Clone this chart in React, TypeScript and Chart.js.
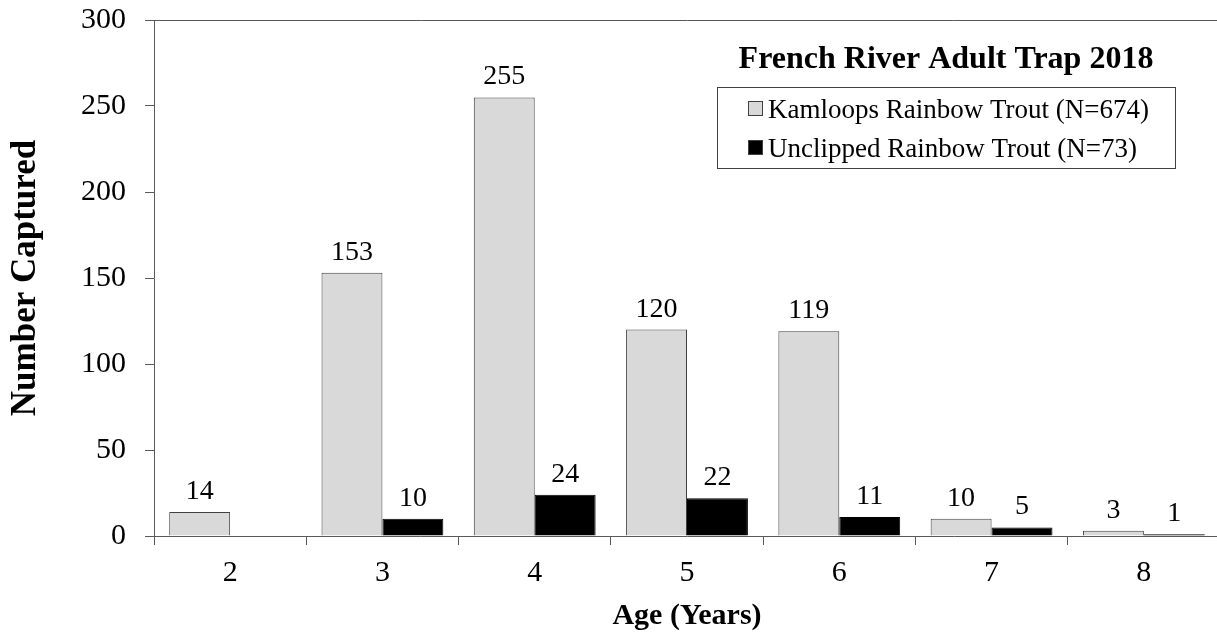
import React, { useEffect, useRef } from "react";
import { Chart, registerables } from "chart.js";

Chart.register(...registerables);

const categories = ["2", "3", "4", "5", "6", "7", "8"];
const kamloops = [14, 153, 255, 120, 119, 10, 3];
const unclipped = [null, 10, 24, 22, 11, 5, 1];
const seriesLabels = ["Kamloops Rainbow Trout (N=674)", "Unclipped Rainbow Trout (N=73)"];
const chartTitle = "French River Adult Trap 2018";
const yMin = 0;
const yMax = 300;
const yStep = 50;
const xTitle = "Age (Years)";
const yTitle = "Number Captured";

const SERIF = "'Liberation Serif', 'Times New Roman', serif";
const AXIS = "#595959";

const valueLabels = {
  id: "valueLabels",
  afterDatasetsDraw(chart: any) {
    const ctx = chart.ctx;
    ctx.save();
    ctx.font = `28px ${SERIF}`;
    ctx.fillStyle = "#000";
    ctx.textAlign = "center";
    ctx.textBaseline = "alphabetic";
    chart.data.datasets.forEach((ds: any, i: number) => {
      const meta = chart.getDatasetMeta(i);
      meta.data.forEach((el: any, j: number) => {
        const v = ds.data[j];
        if (v == null) return;
        ctx.fillText(String(v), el.x, el.y - 13);
      });
    });
    ctx.restore();
  },
};

const legendBox = {
  id: "legendBox",
  afterDraw(chart: any) {
    const ctx = chart.ctx;
    ctx.save();
    ctx.fillStyle = "#000";
    ctx.textAlign = "center";
    ctx.textBaseline = "alphabetic";
    ctx.font = `bold 32px ${SERIF}`;
    ctx.fillText(chartTitle, 946, 68);

    ctx.strokeStyle = "#404040";
    ctx.lineWidth = 1;
    ctx.strokeRect(717.5, 87.5, 458, 81);

    ctx.font = `27px ${SERIF}`;
    ctx.textAlign = "left";
    const rows = [118, 157];
    chart.data.datasets.forEach((ds: any, i: number) => {
      const base = rows[i];
      ctx.fillStyle = ds.backgroundColor;
      ctx.fillRect(748.5, base - 16.5, 14, 14);
      ctx.strokeStyle = "#404040";
      ctx.strokeRect(748.5, base - 16.5, 14, 14);
      ctx.fillStyle = "#000";
      ctx.fillText(ds.label, 768, base);
    });
    ctx.restore();
  },
};

export default function App() {
  const ref = useRef<HTMLCanvasElement | null>(null);

  useEffect(() => {
    if (!ref.current) return;
    const chart = new Chart(ref.current, {
      type: "bar",
      data: {
        labels: categories,
        datasets: [
          {
            label: seriesLabels[0],
            data: kamloops,
            backgroundColor: "#d9d9d9",
            borderColor: "#404040",
            borderWidth: 1,
          },
          {
            label: seriesLabels[1],
            data: unclipped as any,
            backgroundColor: "#000000",
            borderColor: "#000000",
            borderWidth: 1,
          },
        ],
      },
      options: {
        responsive: false,
        animation: false,
        layout: { padding: { top: 20, right: 2, left: 0, bottom: 0 } },
        datasets: { bar: { categoryPercentage: 0.8, barPercentage: 1.0 } },
        plugins: {
          legend: { display: false },
          tooltip: { enabled: false },
          title: { display: false },
        },
        scales: {
          x: {
            afterFit(scale: any) {
              scale.height = 102;
            },
            grid: {
              display: true,
              offset: true,
              drawOnChartArea: false,
              drawTicks: true,
              tickLength: 9,
              tickColor: AXIS,
              color: AXIS,
            },
            border: { color: AXIS, width: 1 },
            ticks: {
              color: "#000",
              font: { family: SERIF, size: 30 },
              padding: 10,
            },
            title: {
              display: true,
              text: xTitle,
              color: "#000",
              font: { family: SERIF, size: 30, weight: "bold" },
              padding: { top: 0, bottom: 4 },
            },
          },
          y: {
            min: yMin,
            max: yMax,
            afterFit(scale: any) {
              scale.width = 154;
              scale.paddingTop = 0;
              scale.paddingBottom = 0;
            },
            grid: {
              display: true,
              drawOnChartArea: true,
              drawTicks: true,
              tickLength: 9,
              tickColor: AXIS,
              color: (c: any) => (c.tick && c.tick.value === yMax ? AXIS : "rgba(0,0,0,0)"),
            },
            border: { color: AXIS, width: 1 },
            ticks: {
              stepSize: yStep,
              color: "#000",
              font: { family: SERIF, size: 30 },
              padding: 19,
            },
            title: {
              display: true,
              text: yTitle,
              color: "#000",
              font: { family: SERIF, size: 35, weight: "bold" },
              padding: { top: 5, bottom: 0 },
            },
          },
        },
      },
      plugins: [valueLabels, legendBox],
    });
    return () => chart.destroy();
  }, []);

  return (
    <div
      style={{
        position: "fixed",
        left: 0,
        top: 0,
        width: 1217,
        height: 638,
        overflow: "hidden",
        background: "#fff",
      }}
    >
      <canvas ref={ref} width={1222} height={638} style={{ display: "block" }} />
    </div>
  );
}
